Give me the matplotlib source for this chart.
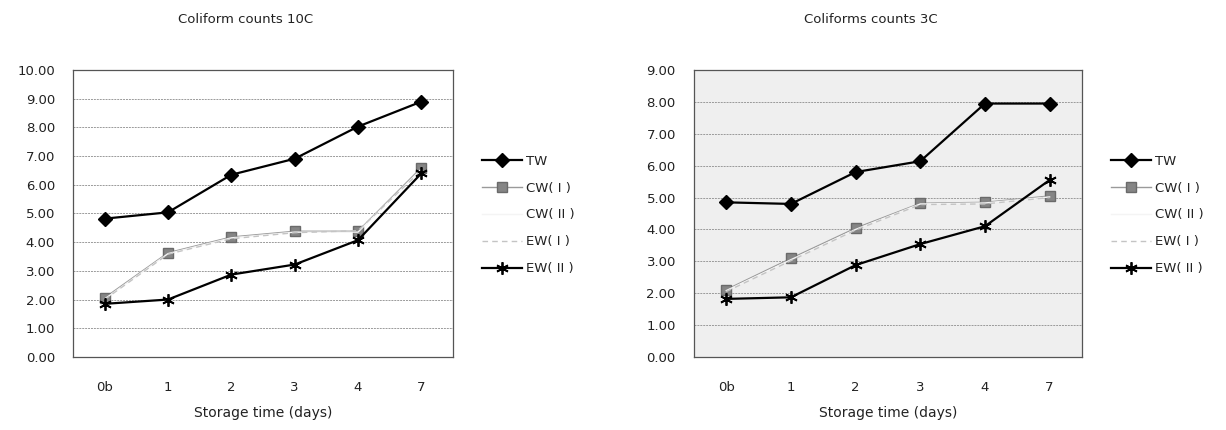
import matplotlib
matplotlib.use("Agg")
import matplotlib.pyplot as plt

# ---------------------------------------------------------------------------
# Data (log counts)
# ---------------------------------------------------------------------------
days = ["0b", "1", "2", "3", "4", "7"]
series_names = ["TW", "CW( I )", "CW( II )", "EW( I )", "EW( II )"]

tw_10c = [4.82, 5.04, 6.35, 6.91, 8.03, 8.90]
cw1_10c = [2.06, 3.63, 4.18, 4.38, 4.38, 6.60]
cw2_10c = [2.02, 3.60, 4.15, 4.35, 4.35, 6.55]
ew1_10c = [2.00, 3.58, 4.12, 4.33, 4.40, 6.50]
ew2_10c = [1.85, 2.00, 2.87, 3.22, 4.07, 6.40]

tw_3c = [4.85, 4.80, 5.80, 6.14, 7.95, 7.95]
cw1_3c = [2.11, 3.09, 4.04, 4.82, 4.85, 5.05]
cw2_3c = [2.08, 3.05, 4.00, 4.80, 4.83, 5.02]
ew1_3c = [2.05, 3.02, 3.98, 4.78, 4.80, 5.00]
ew2_3c = [1.82, 1.87, 2.88, 3.54, 4.10, 5.55]

# ---------------------------------------------------------------------------
# Styles (Excel-like)
# ---------------------------------------------------------------------------
ASTERISK = (6, 2, 0)
STYLES = [
    dict(color="black", lw=1.6, marker="D", ms=7, mfc="black", mec="black"),
    dict(color="#9a9a9a", lw=1.0, marker="s", ms=7.5, mfc="#858585", mec="#6a6a6a"),
    dict(color="#f4f4f4", lw=1.0, marker=None),
    dict(color="#c4c4c4", lw=1.0, ls=(0, (4, 3)), marker=None),
    dict(color="black", lw=1.6, marker=ASTERISK, ms=9, mec="black", mew=1.3),
]

plt.rcParams["font.family"] = ["DejaVu Sans"]
fig = plt.figure(figsize=(12.26, 4.30), dpi=100)


def draw_panel(rect, series, ymax, facecolor, title, title_x):
    ax = fig.add_axes(rect)
    ax.set_facecolor(facecolor)
    x = list(range(len(days)))
    for name, vals, st in zip(series_names, series, STYLES):
        st = dict(st)
        marker = st.pop("marker")
        ax.plot(x, vals, label=name, marker=marker, zorder=3, **st)
    ax.set_xlim(-0.5, len(days) - 0.5)
    ax.set_ylim(0, ymax)
    ax.set_yticks(range(0, ymax + 1))
    ax.set_yticklabels([f"{v:.2f}" for v in range(0, ymax + 1)])
    ax.set_xticks(x)
    ax.set_xticklabels(days)
    ax.tick_params(length=0, labelsize=9.5, colors="#222222", pad=13)
    ax.tick_params(axis="x", pad=17)
    ax.grid(axis="y", color="#9a9a9a", lw=0.7, ls=(0, (2, 1)))
    ax.set_axisbelow(True)
    for sp in ax.spines.values():
        sp.set_color("#555555")
        sp.set_linewidth(0.9)
    ax.set_xlabel("Storage time (days)", fontsize=10, color="#222222", labelpad=9)
    leg = ax.legend(loc="center left", bbox_to_anchor=(1.045, 0.495), frameon=False,
                    fontsize=9.5, handlelength=3.0, handletextpad=0.3,
                    labelspacing=1.05)
    for t in leg.get_texts():
        t.set_color("#222222")
    fig.text(title_x, 0.955, title, ha="center", va="center", fontsize=9.5,
             color="#222222")
    return ax


draw_panel([0.0595, 0.170, 0.310, 0.667],
           [tw_10c, cw1_10c, cw2_10c, ew1_10c, ew2_10c],
           10, "white", "Coliform counts 10C", 0.200)
draw_panel([0.566, 0.170, 0.3165, 0.667],
           [tw_3c, cw1_3c, cw2_3c, ew1_3c, ew2_3c],
           9, "#efefef", "Coliforms counts 3C", 0.710)

fig.savefig("out.png", dpi=100)
